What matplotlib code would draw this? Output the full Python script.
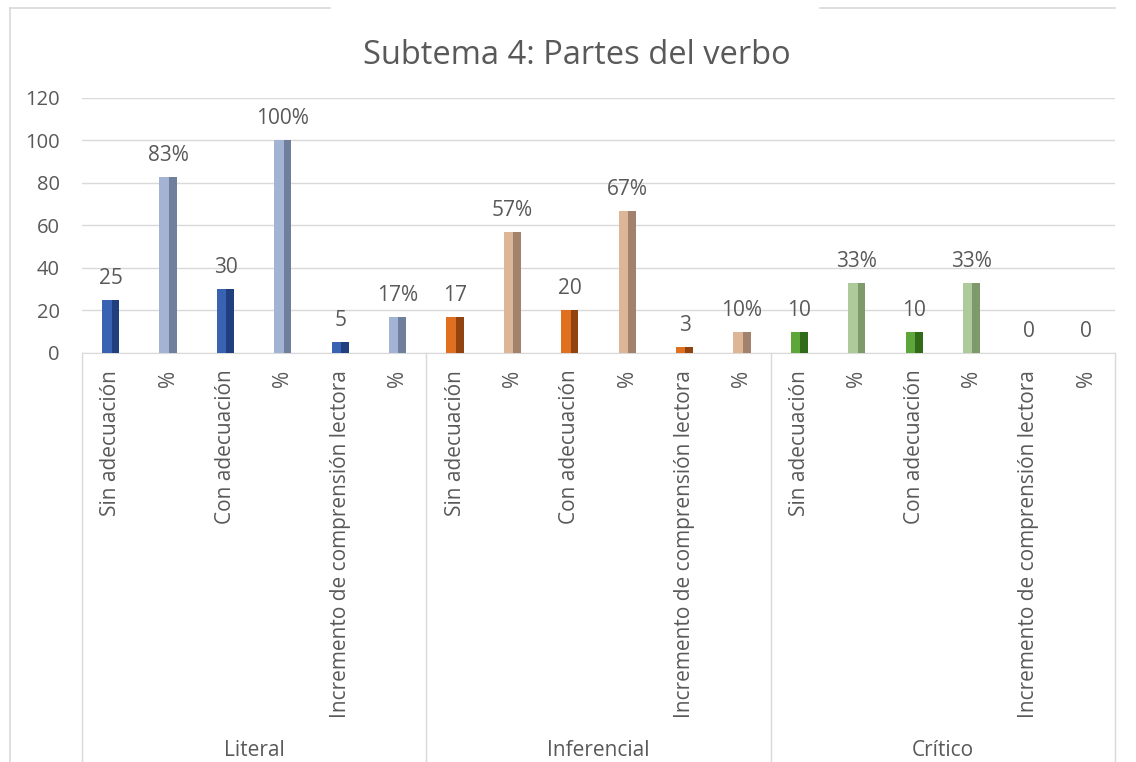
import matplotlib.pyplot as plt
from matplotlib.lines import Line2D

plt.rcParams['font.family'] = ['Open Sans', 'DejaVu Sans']

# Datos
grupos = ['Literal', 'Inferencial', 'Crítico']
categorias = ['Sin adecuación', '%', 'Con adecuación', '%',
              'Incremento de comprensión lectora', '%']
literal = [25, 83, 30, 100, 5, 17]
inferencial = [17, 57, 20, 67, 3, 10]
critico = [10, 33, 10, 33, 0, 0]
es_porcentaje = [False, True, False, True, False, True]
# el último rótulo del gráfico original aparece sin "%"
rotulos_critico = ['10', '33%', '10', '33%', '0', '0']

# Colores (cantidad, porcentaje) por grupo: (cara, sombra)
colores = {
    'Literal': (('#3A62B2', '#213F7E'), ('#A3B3D4', '#6F7F9C')),
    'Inferencial': (('#E0701F', '#91440F'), ('#DDB597', '#A2826C')),
    'Crítico': (('#5CA63A', '#306B1A'), ('#ADCB9A', '#7E9A6C')),
}
gris = '#595959'

fig = plt.figure(figsize=(11.36, 7.62), dpi=100)
ax = fig.add_axes([82 / 1136, 1 - 353 / 762, (1115 - 82) / 1136, 255 / 762])

ancho = 0.30
series = [literal, inferencial, critico]
etiquetas_x = []
for g, (grupo, valores) in enumerate(zip(grupos, series)):
    for i, v in enumerate(valores):
        x = g * 6 + i
        cara, sombra = colores[grupo][1 if es_porcentaje[i] else 0]
        ax.bar(x, v, width=ancho, color=cara, zorder=3)
        ax.bar(x + ancho * 0.275, v, width=ancho * 0.45, color=sombra, zorder=4)
        if grupo == 'Crítico':
            txt = rotulos_critico[i]
        else:
            txt = f'{v}%' if es_porcentaje[i] else f'{v}'
        ax.annotate(txt, (x, v), xytext=(0, 8), textcoords='offset points',
                    ha='center', va='bottom', fontsize=15, color=gris)
        etiquetas_x.append(categorias[i])

ax.set_xlim(-0.5, 17.5)
ax.set_ylim(0, 120)
ax.set_yticks(range(0, 121, 20))
ax.yaxis.grid(True, color='#D9D9D9', lw=1, zorder=0)
ax.tick_params(axis='y', length=0, labelsize=14.5, labelcolor=gris, pad=16)
ax.set_xticks(range(18))
ax.set_xticklabels(etiquetas_x, rotation=90, fontsize=15, color=gris)
ax.tick_params(axis='x', length=0, pad=12)
for s in ['top', 'right', 'left']:
    ax.spines[s].set_visible(False)
ax.spines['bottom'].set_color('#D9D9D9')

# Separadores de grupos y etiquetas de grupo
tr = ax.get_xaxis_transform()
for xs in [-0.5, 5.5, 11.5, 17.5]:
    ax.plot([xs, xs], [0, -1.62], color='#D9D9D9', lw=1, transform=tr, clip_on=False)
for g, grupo in enumerate(grupos):
    ax.text(g * 6 + 2.5, -1.56, grupo, transform=tr, ha='center', va='center',
            fontsize=15, color=gris)

# Título
fig.text(577 / 1136, 1 - 55 / 762, 'Subtema 4: Partes del verbo', ha='center',
         va='center', fontsize=23.5, color=gris)

# Borde del gráfico
fig.add_artist(Line2D([10 / 1136, 10 / 1136], [0, 1 - 8 / 762], color='#D9D9D9', lw=1.2))
fig.add_artist(Line2D([10 / 1136, 330 / 1136], [1 - 8 / 762, 1 - 8 / 762], color='#D9D9D9', lw=1.2))
fig.add_artist(Line2D([820 / 1136, 1115 / 1136], [1 - 8 / 762, 1 - 8 / 762], color='#D9D9D9', lw=1.2))

fig.savefig('out.png', dpi=100)
